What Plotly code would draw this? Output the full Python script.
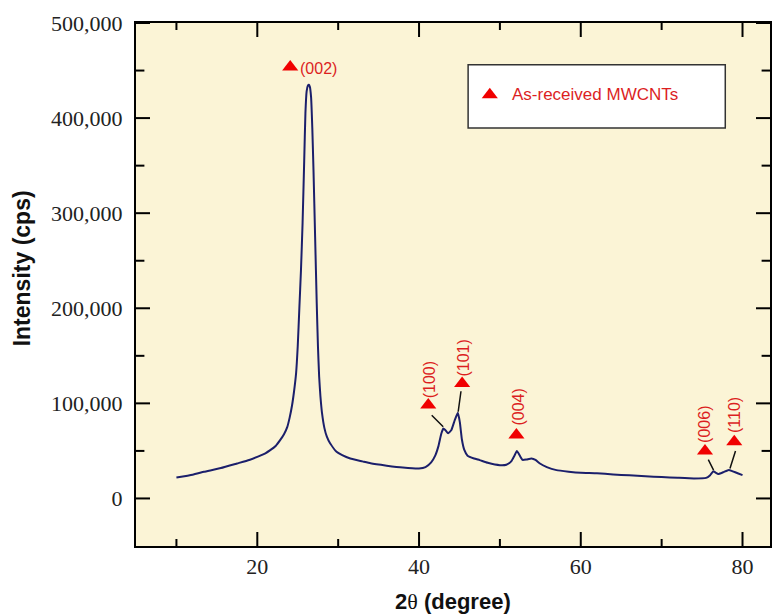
import plotly.graph_objects as go

# XRD pattern of as-received MWCNTs
two_theta = [10.0, 12.0, 13.4, 15.5, 17.5, 19.0, 20.0, 21.0, 21.6, 22.3, 22.8, 23.3,
             23.7, 24.0, 24.3, 24.55, 24.8, 25.0, 25.2, 25.4, 25.6, 25.8, 25.95,
             26.1, 26.25, 26.38, 26.5, 26.65, 26.8, 26.95, 27.15, 27.35, 27.5, 27.65,
             27.8, 28.0, 28.3, 28.6, 29.0, 29.8, 30.5, 31.5, 33.0, 34.0,
             36.0, 38.0, 40.0, 40.8, 41.5, 42.0, 42.4, 42.75, 43.0, 43.25, 43.6, 44.0,
             44.4, 44.8, 45.05, 45.3, 45.6, 46.0, 46.8, 47.5, 48.5, 50.0, 50.8, 51.4,
             51.8, 52.1, 52.4, 52.8, 53.3, 53.9, 54.4, 54.9, 55.8, 57.0, 58.5, 60.0,
             62.0, 64.0, 66.0, 68.0, 70.0, 72.0, 74.0, 75.5, 76.0, 76.4, 76.7, 77.0,
             77.6, 78.3, 78.8, 79.4, 80.0]
intensity = [22000, 25000, 28000, 32000, 36800, 40500, 43800, 47500, 50800, 55500,
             61000, 67500, 75000, 85000, 98000, 113000, 132000, 160000, 200000,
             240000, 290000, 355000, 405000, 428000, 434000, 435000, 433000, 422000,
             390000, 345000, 275000, 205000, 160000, 128000, 108000, 90000, 74000,
             65000, 58000, 49000, 45500, 42000, 39000, 37000, 34500,
             32500, 31500, 33000, 38000, 45000, 55000, 68000, 73500, 72000, 68500,
             72000, 82000, 90000, 80000, 62000, 51000, 45000, 42000, 40300, 37500,
             35000, 35500, 39000, 45000, 50000, 46000, 40500, 41000, 42000, 40500,
             37000, 33000, 29800, 28200, 27000, 26500, 25300, 24300, 23300, 22500,
             21700, 21000, 21600, 24500, 28500, 27000, 25700, 27500, 30000, 28500,
             26500, 24500]

# Peak indexing: marker position and Miller-index label
peak_labels = ["(002)", "(100)", "(101)", "(004)", "(006)", "(110)"]
marker_x = [24.07, 41.14, 45.33, 52.04, 75.36, 78.98]
marker_y = [453700, 98200, 121000, 66600, 50000, 59600]

# Leader lines from marker to the reflection they index
leader_peak = ["(100)", "(101)", "(006)", "(110)"]
leader_x = [42.99, 44.84, 76.42, 78.45]
leader_y = [75400, 91200, 29800, 31600]

# Axis ranges and tick values
x_range = [5, 83.4]
y_range = [-50000, 500000]
x_major = [20, 40, 60, 80]
x_minor = [10, 30, 50, 70]
y_major = [0, 100000, 200000, 300000, 400000, 500000]
y_minor = [50000, 150000, 250000, 350000, 450000]

legend_text = "As-received MWCNTs"

RED = "#f00000"
TEXT_RED = "#dc1f1f"
NAVY = "#1b1f6b"

fig = go.Figure()

# Legend box (drawn below the traces so its marker stays visible)
fig.add_shape(type="rect", xref="x", yref="y", x0=46.07, x1=77.87, y0=389500, y1=456000,
              fillcolor="white", line=dict(color="#333333", width=1.5), layer="below")

fig.add_trace(go.Scatter(
    x=two_theta, y=intensity, mode="lines",
    line=dict(color=NAVY, width=2, shape="spline", smoothing=0.4),
    showlegend=False, hoverinfo="skip"))

fig.add_trace(go.Scatter(
    x=marker_x, y=marker_y, mode="markers",
    marker=dict(symbol="triangle-up", size=14, color=RED, line=dict(width=0)),
    showlegend=False, hoverinfo="skip"))

fig.add_trace(go.Scatter(
    x=[48.75], y=[424500], mode="markers",
    marker=dict(symbol="triangle-up", size=14, color=RED, line=dict(width=0)),
    showlegend=False, hoverinfo="skip"))


def edge_ticks(xs, ys, symbol, size):
    # Line markers centred on the frame edge; the half outside the plot is clipped,
    # leaving an inward-pointing tick of length size/2.
    fig.add_trace(go.Scatter(
        x=xs, y=ys, mode="markers", cliponaxis=True,
        marker=dict(symbol=symbol, size=size, color="black",
                    line=dict(width=2, color="black")),
        showlegend=False, hoverinfo="skip"))


for vals, size in ((x_major, 20), (x_minor, 10)):
    edge_ticks(vals, [y_range[0]] * len(vals), "line-ns-open", size)
    edge_ticks(vals, [y_range[1]] * len(vals), "line-ns-open", size)
for vals, size in ((y_major, 20), (y_minor, 12)):
    edge_ticks([x_range[0]] * len(vals), vals, "line-ew-open", size)
    edge_ticks([x_range[1]] * len(vals), vals, "line-ew-open", size)

annotations = []
label_shift = {"(002)": (0, 0), "(100)": (1, 25), "(101)": (1, 25),
               "(004)": (2, 28), "(006)": (0, 27), "(110)": (1, 27)}
for lab, mx, my in zip(peak_labels, marker_x, marker_y):
    dx, dy = label_shift[lab]
    if lab == "(002)":
        annotations.append(dict(x=mx, y=my, xref="x", yref="y", text=lab,
                                showarrow=False, xanchor="left", yanchor="middle",
                                xshift=8, yshift=-1,
                                font=dict(family="Liberation Sans", size=16, color=TEXT_RED)))
    else:
        annotations.append(dict(x=mx, y=my, xref="x", yref="y", text=lab,
                                showarrow=False, textangle=-90,
                                xanchor="center", yanchor="middle",
                                xshift=dx, yshift=dy,
                                font=dict(family="Liberation Sans", size=16, color=TEXT_RED)))

leader_offsets = {"(100)": (-13, -13), "(101)": (3, -22), "(006)": (-6, -12), "(110)": (6, -19)}
for lab, lx, ly in zip(leader_peak, leader_x, leader_y):
    ax, ay = leader_offsets[lab]
    annotations.append(dict(x=lx, y=ly, xref="x", yref="y", text="", showarrow=True,
                            arrowhead=0, arrowwidth=1.5, arrowcolor="#111111",
                            ax=ax, ay=ay, standoff=0, startstandoff=0))

annotations.append(dict(x=51.2, y=424500, xref="x", yref="y", text=legend_text,
                        showarrow=False, xanchor="left", yanchor="middle",
                        font=dict(family="Liberation Sans", size=17, color=TEXT_RED)))

# Axis titles
annotations.append(dict(x=-0.1785, y=0.5306, xref="paper", yref="paper",
                        text="<b>Intensity (cps)</b>", textangle=-90, showarrow=False,
                        xanchor="center", yanchor="middle",
                        font=dict(family="Liberation Sans", size=23, color="#111111")))
annotations.append(dict(x=0.5, y=-0.106, xref="paper", yref="paper",
                        text="<b>2</b><span style='font-family:Liberation Serif'>θ</span><b> (degree)</b>",
                        showarrow=False, xanchor="center", yanchor="middle",
                        font=dict(family="Liberation Sans", size=22, color="#111111")))

axis_common = dict(
    showline=True, linecolor="black", linewidth=2, mirror=True,
    ticks="", showgrid=False, zeroline=False,
    tickfont=dict(family="Liberation Serif", size=22, color="#222222"),
)

fig.update_layout(
    width=773, height=614,
    margin=dict(l=136, r=1, t=23, b=68),
    paper_bgcolor="white", plot_bgcolor="#fbf4d6",
    xaxis=dict(range=x_range, tickmode="array", tickvals=x_major, **axis_common),
    yaxis=dict(range=y_range, tickmode="array", tickvals=y_major,
               tickformat=",d", ticklabelstandoff=7, **axis_common),
    annotations=annotations,
    showlegend=False,
)

fig.write_html("out.html")
